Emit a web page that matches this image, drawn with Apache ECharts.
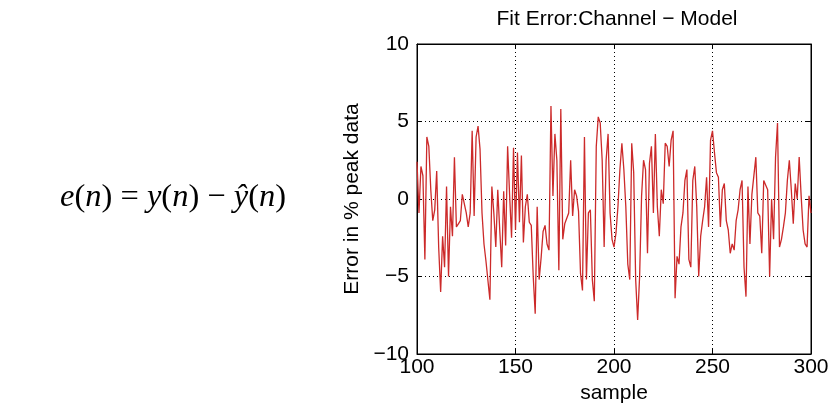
<!DOCTYPE html>
<html><head><meta charset="utf-8">
<script src="https://cdn.jsdelivr.net/npm/echarts@6/dist/echarts.min.js"></script>
<style>html,body{margin:0;padding:0;background:#fff}#c{width:828px;height:410px}</style>
</head><body><div id="c"></div>
<script>
const startSample = 100;
const errorValues = [
 2.4,-0.9,2.1,1.5,-3.9,4.0,3.4,0.6,-1.4,-0.7,1.8,-3.1,-6.0,-2.4,-4.4,0.8,-5.0,-0.5,-2.4,2.7,
 -1.8,-1.6,-1.4,0.3,-0.3,-0.9,-1.8,-0.9,4.4,-1.1,4.0,4.7,3.2,-0.9,
 -2.9,-4.0,-4.1,-6.5,0.8,-0.9,-3.1,0.6,-2.0,-4.4,0.5,-3.0,3.4,0.3,-2.5,3.3,
 -2.0,3.0,-1.5,2.8,-2.8,-0.5,0.3,-1.5,-1.7,-5.0,-7.4,-0.5,-5.2,-3.8,-2.1,-1.7,-2.9,
 -3.3,6.0,0.2,4.2,2.5,-4.6,5.8,-2.6,-1.6,-1.6,-0.9,2.5,-1.1,0.6,0.2,-0.8,-4.8,-5.9,4.0,-5.2,
 -0.9,-0.7,-5.2,-6.6,3.4,5.3,4.9,2.5,-3.1,2.5,4.2,-0.9,-2.6,-3.1,
 -2.2,-0.5,1.9,3.6,1.9,-0.5,-4.2,-5.2,3.6,1.7,-5.2,-7.8,-5.0,0.2,2.5,1.9,-3.5,2.3,3.4,-0.9,
 4.2,-0.5,-2.4,0.6,-0.3,3.6,3.4,2.1,3.8,4.4,-6.4,-3.7,-4.2,
 -1.8,-0.9,1.2,1.9,-3.9,-4.4,1.2,2.1,-0.5,-5.0,-2.4,-1.4,-0.5,1.4,-1.8,3.8,4.4,3.0,1.7,1.4,
 -1.8,0.6,1.0,-1.4,-2.0,-3.5,-2.9,-3.3,-1.4,-0.7,0.6,1.2,-4.4,
 -6.3,0.8,-2.9,0.3,0.2,2.7,-0.9,-1.1,-3.5,1.2,1.2,0.6,-5.0,0.0,-2.6,2.7,4.9,-3.1,-2.6,-1.8,
 -0.9,1.2,2.5,0.6,-1.6,1.0,0.0,2.7,0.2,-2.0,-2.9,-3.1,0.2,-0.9
];
const xTicks = [100,150,200,250,300];
const yTicks = [-10,-5,0,5,10];
const titleText = 'Fit Error:Channel \u2212 Model';
const xName = 'sample';
const yName = 'Error in % peak data';

const chart = echarts.init(document.getElementById('c'), null, {renderer:'canvas'});
const pts = errorValues.map((v,i)=>[startSample+i, v]);
const fmt = v => String(v).replace('-', '\u2212');
const gridDot = {show:true, lineStyle:{color:'#000', width:1, type:[1,3]}};
const tickIn = {show:true, inside:true, length:5, lineStyle:{color:'#000', width:1}};
const lbl = {color:'#000', fontFamily:'Liberation Sans, Arial, sans-serif', fontSize:21};
chart.setOption({
  animation:false,
  backgroundColor:'#fff',
  title:{text:titleText, left:612, top:4, textAlign:'center',
    textStyle:{color:'#000', fontWeight:'normal', fontSize:21, fontFamily:'Liberation Sans, Arial, sans-serif'}},
  grid:{left:417, right:17, top:44, bottom:56, show:true, borderColor:'#000', borderWidth:1,
    backgroundColor:'#fff', containLabel:false, outerBoundsMode:'none'},
  xAxis:[
    {type:'value', min:xTicks[0], max:xTicks[xTicks.length-1], interval:50, position:'bottom',
     axisLine:{show:true, onZero:false, lineStyle:{color:'#000'}}, axisTick:tickIn, splitLine:gridDot,
     axisLabel:Object.assign({margin:3, formatter:fmt}, lbl),
     name:xName, nameLocation:'middle', nameGap:25, nameTextStyle:lbl},
    {type:'value', min:xTicks[0], max:xTicks[xTicks.length-1], interval:50, position:'top',
     axisLine:{show:true, onZero:false, lineStyle:{color:'#000'}}, axisTick:tickIn, splitLine:{show:false}, axisLabel:{show:false}}
  ],
  yAxis:[
    {type:'value', min:yTicks[0], max:yTicks[yTicks.length-1], interval:5, position:'left',
     axisLine:{show:true, onZero:false, lineStyle:{color:'#000'}}, axisTick:tickIn, splitLine:gridDot,
     axisLabel:Object.assign({margin:8, formatter:fmt}, lbl),
     name:yName, nameLocation:'middle', nameGap:54, nameRotate:90, nameTextStyle:lbl},
    {type:'value', min:yTicks[0], max:yTicks[yTicks.length-1], interval:5, position:'right',
     axisLine:{show:true, onZero:false, lineStyle:{color:'#000'}}, axisTick:tickIn, splitLine:{show:false}, axisLabel:{show:false}}
  ],
  series:[{type:'line', data:pts, xAxisIndex:0, yAxisIndex:0, showSymbol:false,
    lineStyle:{color:'#cc2a2a', width:1.3}, silent:true}],
  graphic:[{type:'text', left:60, top:181, silent:true,
    style:{
      text:'{i|e}{n|(}{i|n}{n|) = }{i|y}{n|(}{i|n}{n|) \u2212 }{i|\u0177}{n|(}{i|n}{n|)}',
      rich:{
        i:{fontFamily:'Liberation Serif, Times New Roman, serif', fontStyle:'italic', fontSize:32.5, fill:'#000'},
        n:{fontFamily:'Liberation Serif, Times New Roman, serif', fontSize:32.5, fill:'#000'}
      }
    }}]
});
</script></body></html>
